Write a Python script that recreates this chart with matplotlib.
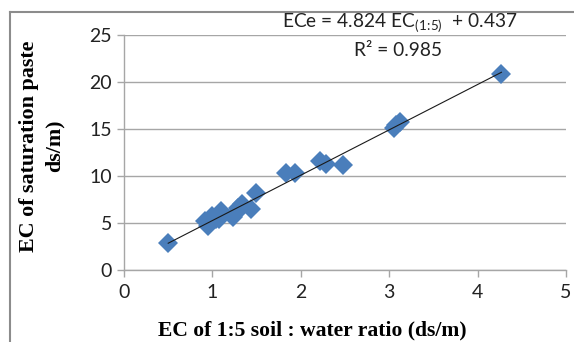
import numpy as np
import matplotlib.pyplot as plt
from matplotlib.lines import Line2D

# data
ec_15 = [0.50, 0.92, 0.95, 1.00, 1.04, 1.08, 1.10, 1.23, 1.27, 1.29, 1.33,
         1.44, 1.49, 1.83, 1.93, 2.22, 2.28, 2.48, 3.05, 3.08, 3.12, 4.27]
ec_e = [2.9, 5.2, 4.7, 5.7, 5.4, 5.4, 6.3, 5.6, 6.1, 6.6, 7.0,
        6.5, 8.2, 10.3, 10.3, 11.6, 11.3, 11.2, 15.1, 15.4, 15.7, 20.8]
slope, intercept = 4.824, 0.437
x_ticks = [0, 1, 2, 3, 4, 5]
y_ticks = [0, 5, 10, 15, 20, 25]

plt.rcParams['font.family'] = ['Lato', 'DejaVu Sans']

fig = plt.figure(figsize=(5.74, 3.42), dpi=100)
ax = fig.add_axes([124/574, 1-270/342, (566-124)/574, (270-35)/342])

ax.set_xlim(0, 5)
ax.set_ylim(0, 25)
ax.set_xticks(x_ticks)
ax.set_yticks(y_ticks)
ax.yaxis.grid(True, color='#a6a6a6', lw=1.0)
ax.set_axisbelow(True)

for s in ['top', 'right']:
    ax.spines[s].set_visible(False)
for s in ['left', 'bottom']:
    ax.spines[s].set_color('#a6a6a6')
    ax.spines[s].set_linewidth(1.0)
ax.tick_params(colors='#a6a6a6', labelcolor='#222222', labelsize=14,
               length=5, width=1.0)
ax.tick_params(axis='x', pad=5)

ax.plot(ec_15, ec_e, linestyle='none', marker='D', markersize=10,
        color='#4a7ebb', markeredgewidth=0, clip_on=False, zorder=3)

xs = np.array([min(ec_15), max(ec_15)])
ax.plot(xs, slope*xs + intercept, color='#1a1a1a', lw=0.8, zorder=4)

fig.text(400/574, 1-23/342,
         r'ECe = 4.824 EC$\mathregular{_{(1\!:\!5)}}$  + 0.437',
         ha='center', va='center', fontsize=13.8, color='#222222')
fig.text(398/574, 1-50/342, 'R² = 0.985',
         ha='center', va='center', fontsize=13.8, color='#222222')

fig.text(312/574, 1-330/342, 'EC of 1:5 soil : water ratio (ds/m)',
         ha='center', va='center', fontsize=15.6, fontweight='bold',
         family='Liberation Serif')
fig.text(42/574, 1-146/342, 'EC of saturation paste\nds/m)',
         ha='center', va='center', rotation=90, fontsize=15.8,
         fontweight='bold', family='Liberation Serif', linespacing=1.35,
         multialignment='center')

# outer chart frame (only left and top visible)
fig.add_artist(Line2D([10/574, 10/574], [0, 1-12/342],
                      transform=fig.transFigure, color='#8c8c8c', lw=1.5))
fig.add_artist(Line2D([10/574, 1], [1-12/342, 1-12/342],
                      transform=fig.transFigure, color='#8c8c8c', lw=1.5))

fig.savefig('out.png', dpi=100)
